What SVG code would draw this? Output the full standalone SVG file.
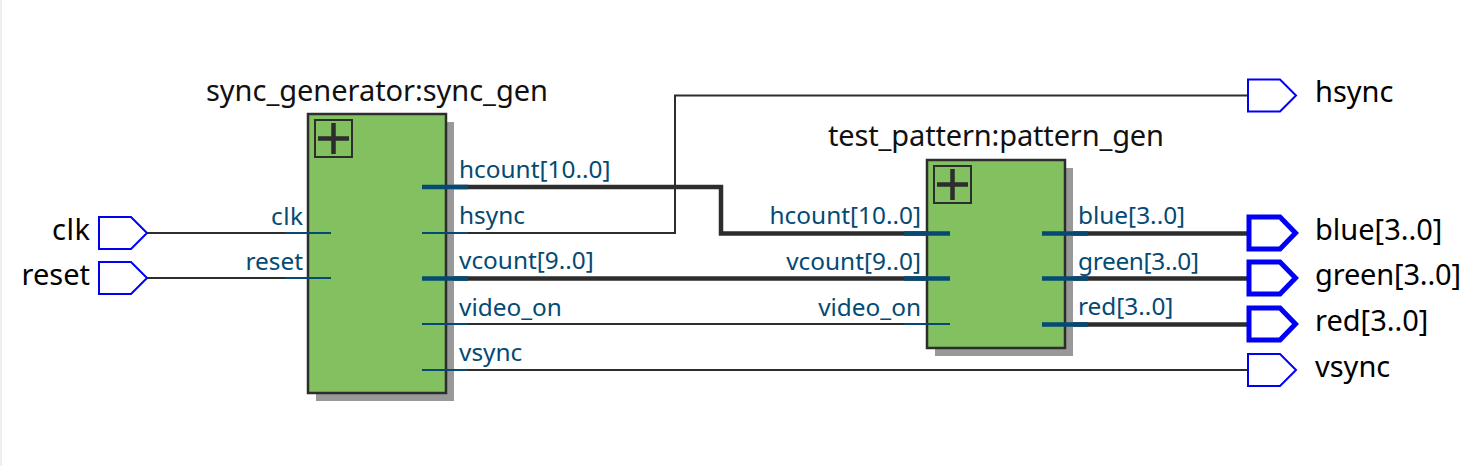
<svg xmlns="http://www.w3.org/2000/svg" width="1471" height="466" viewBox="0 0 1471 466">
<style>
text{font-family:"Noto Sans","Open Sans",sans-serif}
.title{font-size:29px;fill:#111}
.io{font-size:29px;fill:#000}
.pl{font-size:24.400px;fill:#044a73}
.w{fill:none;stroke:#2d2d2d;stroke-width:2}
.b{fill:none;stroke:#2d2d2d;stroke-width:4.500}
.ps{fill:none;stroke:#044a73;stroke-width:2}
.pb{fill:none;stroke:#044a73;stroke-width:4.500}
.pin{fill:#fff;stroke:#0000f5;stroke-width:2}
.pinb{fill:#fff;stroke:#0000f5;stroke-width:5}
.body{fill:#83c060;stroke:#2d2d2d;stroke-width:2.500}
.shadow{fill:#999}
.plus{fill:none;stroke:#2d2d2d;stroke-width:2}
.cross{fill:none;stroke:#2d2d2d;stroke-width:4.500}
</style>
<rect width="1471" height="466" fill="#fff"/>
<rect x="0" y="0" width="2" height="466" fill="#eee"/>
<g id="connectors">
<path class="w" d="M147 233H331"/>
<path class="w" d="M147 278H331"/>
<path class="w" d="M422 233H675V95.500H1248"/>
<path class="b" d="M422 187H721V233.500H950"/>
<path class="b" d="M422 278.500H950"/>
<path class="w" d="M422 324H950"/>
<path class="w" d="M422 370H1248"/>
<path class="b" d="M1042 233.500H1248"/>
<path class="b" d="M1042 278.500H1248"/>
<path class="b" d="M1042 324.500H1248"/>
</g>
<g id="sync_gen">
<rect class="shadow" x="316" y="122" width="138" height="279"/>
<rect class="body" x="308" y="114" width="138" height="279"/>
<rect class="plus" x="315" y="120" width="37" height="37"/>
<path class="cross" d="M318 138.500H349M333.500 123V154"/>
<text class="title" x="206" y="101" textLength="342">sync_generator:sync_gen</text>
<path class="ps" d="M285 233H331M285 278H331M422 233H468M422 324H468M422 370H468"/>
<path class="pb" d="M422 187H468M422 278.500H468"/>
<text class="pl" x="271" y="225" textLength="32">clk</text>
<text class="pl" x="303" y="269.500" text-anchor="end">reset</text>
<text class="pl" x="459" y="178">hcount[10..0]</text>
<text class="pl" x="459" y="224">hsync</text>
<text class="pl" x="459" y="269">vcount[9..0]</text>
<text class="pl" x="459" y="316">video_on</text>
<text class="pl" x="459" y="361">vsync</text>
</g>
<g id="pattern_gen">
<rect class="shadow" x="935" y="168" width="138" height="188"/>
<rect class="body" x="927" y="160" width="138" height="188"/>
<rect class="plus" x="934" y="166" width="37" height="37"/>
<path class="cross" d="M937 184.500H968M952.500 169V200"/>
<text class="title" x="828" y="146" textLength="336">test_pattern:pattern_gen</text>
<path class="pb" d="M904 233.500H950M904 278.500H950M1042 233.500H1088M1042 278.500H1088M1042 324.500H1088"/>
<path class="ps" d="M904 324H950"/>
<text class="pl" x="921" y="224" text-anchor="end">hcount[10..0]</text>
<text class="pl" x="921" y="270" text-anchor="end">vcount[9..0]</text>
<text class="pl" x="921" y="316" text-anchor="end">video_on</text>
<text class="pl" x="1078" y="224">blue[3..0]</text>
<text class="pl" x="1078" y="270" textLength="121">green[3..0]</text>
<text class="pl" x="1078" y="315">red[3..0]</text>
</g>
<g id="pin_clk"><path class="pin" d="M99 217H131L147 233L131 249H99Z"/><text class="io" x="52" y="240" textLength="38">clk</text></g>
<g id="pin_reset"><path class="pin" d="M99 262H131L147 278L131 294H99Z"/><text class="io" x="90" y="285" text-anchor="end">reset</text></g>
<g id="pin_hsync"><path class="pin" d="M1248 79.500H1280L1296 95.500L1280 111.500H1248Z"/><text class="io" x="1315" y="102">hsync</text></g>
<g id="pin_blue"><path class="pinb" d="M1249 217H1280L1295.500 233L1280 249H1249Z"/><text class="io" x="1315" y="240">blue[3..0]</text></g>
<g id="pin_green"><path class="pinb" d="M1249 262H1280L1295.500 278L1280 294H1249Z"/><text class="io" x="1315" y="285" textLength="146">green[3..0]</text></g>
<g id="pin_red"><path class="pinb" d="M1249 308H1280L1295.500 324L1280 340H1249Z"/><text class="io" x="1315" y="331">red[3..0]</text></g>
<g id="pin_vsync"><path class="pin" d="M1248 354H1280L1296 370L1280 386H1248Z"/><text class="io" x="1315" y="377">vsync</text></g>
</svg>
